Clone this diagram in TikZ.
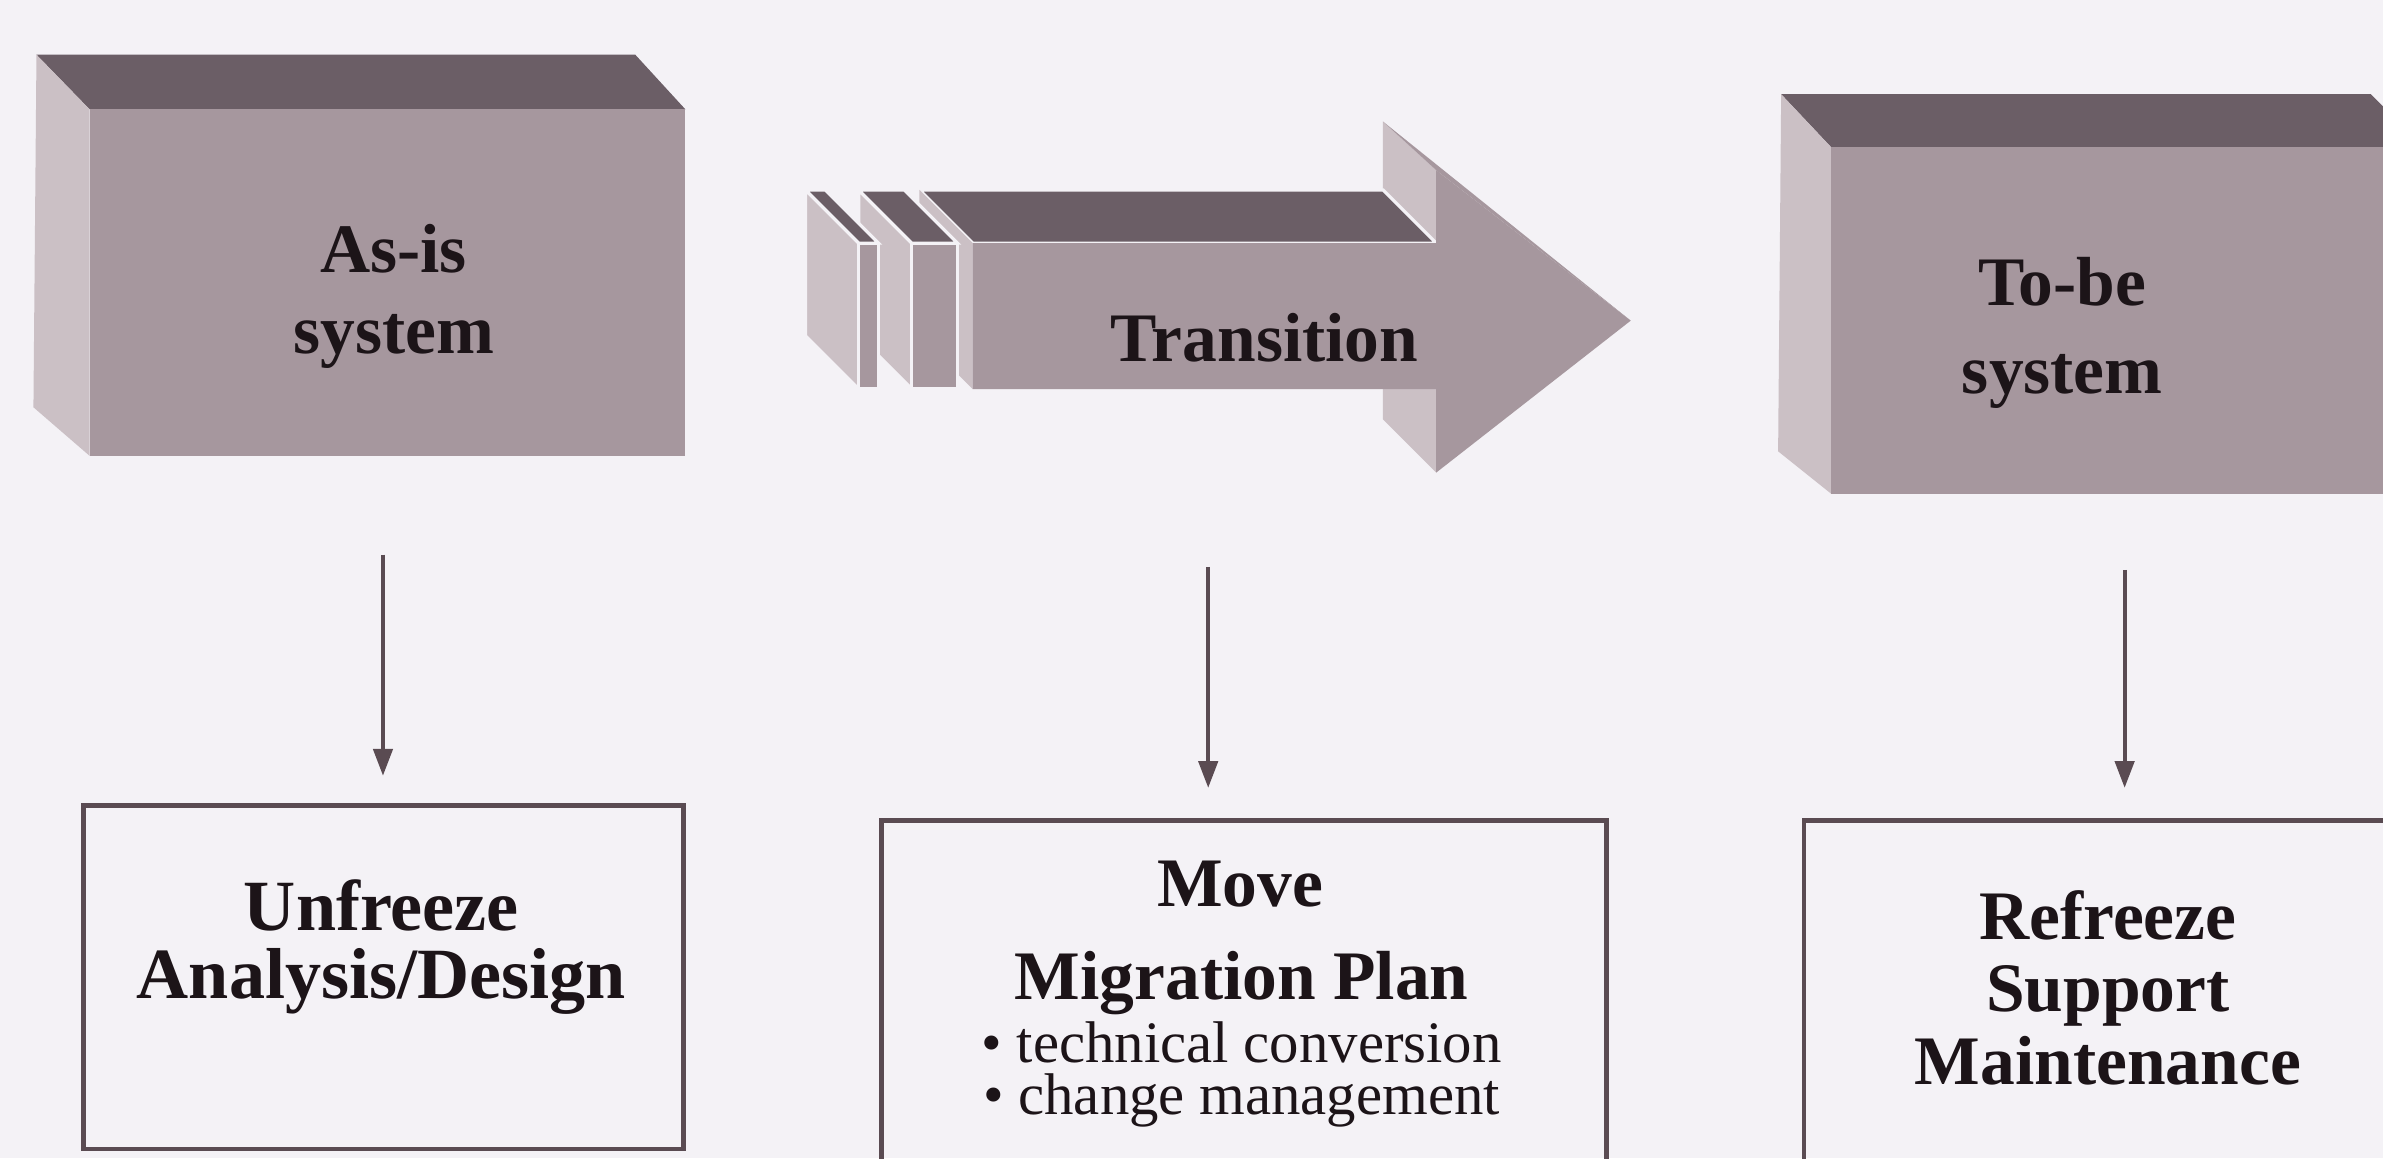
\documentclass[tikz,border=0pt]{standalone}
\usepackage{fontspec}
\setmainfont{Liberation Serif}
\usetikzlibrary{positioning}
\usetikzlibrary{fit}
\usetikzlibrary{arrows.meta}

\definecolor{paper}{HTML}{F4F2F6}
\definecolor{facefront}{HTML}{A6979E}
\definecolor{facetop}{HTML}{6B5E66}
\definecolor{faceside}{HTML}{CBC0C5}
\definecolor{inkline}{HTML}{5A4B52}
\definecolor{inktext}{HTML}{1C1418}

\tikzset{
  front/.style={fill=facefront},
  topface/.style={fill=facetop},
  sideface/.style={fill=faceside},
  slab/.style={draw=paper, line width=0.6pt},
  label/.style={text=inktext, align=center, inner sep=0pt,
                font=\fontsize{13}{15.3}\selectfont\bfseries},
  small/.style={text=inktext, align=center, inner sep=0pt,
                font=\fontsize{11}{9.6}\selectfont},
  panel/.style={draw=inkline, line width=0.9pt, inner sep=0pt},
  flow/.style={draw=inkline, line width=0.7pt,
               -{Triangle[length=5pt,width=3.6pt]}},
}

\begin{document}
\begin{tikzpicture}[x=0.01cm, y=-0.01cm]
  \useasboundingbox (0,0) rectangle (1568,762);
  \clip (0,0) rectangle (1568,762);
  \fill[paper] (0,0) rectangle (1568,762);

  % as-is block
  \fill[topface] (24,36) -- (418,36) -- (451,72) -- (59,72) -- cycle;
  \fill[sideface] (24,36) -- (59,72) -- (59,300) -- (22,268) -- cycle;
  \fill[front] (59,72) rectangle (451,300);
  \node[label] (asis) at (259,195) {As-is\\system};

  % transition arrow: head, body, then the slabs in front of it
  \fill[sideface] (910,80) -- (945,112) -- (945,311) -- (910,276) -- cycle;
  \fill[front] (910,80) -- (1073,211) -- (945,112) -- cycle;
  \filldraw[topface, slab] (605,125) -- (910,125) -- (945,160) -- (640,160) -- cycle;
  \fill[sideface] (605,125) -- (640,160) -- (640,256) -- (605,221) -- cycle;
  \fill[front] (640,160) -- (945,160) -- (945,112) -- (1073,211)
    -- (945,311) -- (945,256) -- (640,256) -- cycle;
  \filldraw[sideface, slab] (565,125) -- (600,160) -- (600,256) -- (565,221) -- cycle;
  \filldraw[topface, slab] (565,125) -- (595,125) -- (630,160) -- (600,160) -- cycle;
  \filldraw[front, slab] (600,160) rectangle (630,256);
  \filldraw[sideface, slab] (530,125) -- (565,160) -- (565,256) -- (530,221) -- cycle;
  \filldraw[topface, slab] (530,125) -- (543,125) -- (578,160) -- (565,160) -- cycle;
  \filldraw[front, slab] (565,160) rectangle (578,256);
  \node[label] (trans) at (832,222) {Transition};

  % to-be block
  \fill[topface] (1172,62) -- (1560,62) -- (1595,97) -- (1205,97) -- cycle;
  \fill[sideface] (1172,62) -- (1205,97) -- (1205,325) -- (1170,297) -- cycle;
  \fill[front] (1205,97) rectangle (1600,325);
  \node[label, font=\fontsize{13}{16.4}\selectfont\bfseries] (tobe) at (1357,219) {To-be\\system};

  % lower boxes
  \node[panel, fit={(55,530) (450,756)}] (unfreeze) {};
  \node[panel, fit={(580,540) (1057,790)}] (move) {};
  \node[panel, fit={(1187,540) (1620,790)}] (refreeze) {};

  \node[label, font=\fontsize{13.5}{12.8}\selectfont\bfseries] (unfreezetxt) at (251,623)
    {Unfreeze\\Analysis/Design};
  \node[label] (movetxt) at (816,582) {Move};
  \node[label] (plantxt) at (817,647) {Migration Plan};
  \node[small] (listtxt) at (817,707) {• technical conversion\\• change management};
  \node[label, font=\fontsize{13}{13.6}\selectfont\bfseries] (refreezetxt) at (1387,650)
    {Refreeze\\Support\\Maintenance};

  % arrows down
  \coordinate (asisfoot) at (252,365);
  \coordinate (transfoot) at (795,373);
  \coordinate (tobefoot) at (1398,375);
  \draw[flow, shorten >=0.18cm] (asisfoot) -- (asisfoot |- unfreeze.north);
  \draw[flow, shorten >=0.2cm] (transfoot) -- (transfoot |- move.north);
  \draw[flow, shorten >=0.2cm] (tobefoot) -- (tobefoot |- refreeze.north);
\end{tikzpicture}
\end{document}
